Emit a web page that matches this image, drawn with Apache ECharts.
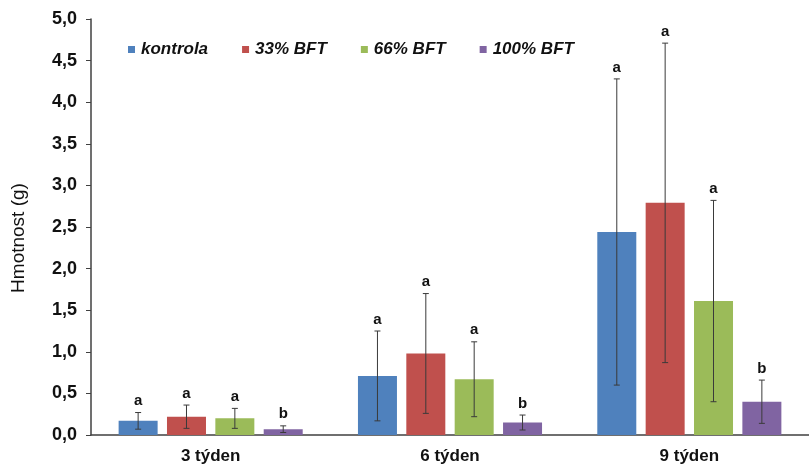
<!DOCTYPE html>
<html>
<head>
<meta charset="utf-8">
<script src="https://cdn.jsdelivr.net/npm/echarts@6/dist/echarts.min.js"></script>
<style>
  html, body { margin: 0; padding: 0; background: #fff; }
  #chart { width: 809px; height: 467px; }
</style>
</head>
<body>
<div id="chart"></div>
<script>
// Weeks on the x axis
const categories = ['3 týden', '6 týden', '9 týden'];
const seriesNames = ['kontrola', '33% BFT', '66% BFT', '100% BFT'];

// Mean weight (g) per group
const kontrola = [0.17, 0.71, 2.44];
const bft33    = [0.22, 0.98, 2.79];
const bft66    = [0.20, 0.67, 1.61];
const bft100   = [0.07, 0.15, 0.40];

// Standard deviation (g)
const sdKontrola = [0.10, 0.54, 1.84];
const sdBft33    = [0.14, 0.72, 1.92];
const sdBft66    = [0.12, 0.45, 1.21];
const sdBft100   = [0.04, 0.09, 0.26];

// Significance letters above each error bar
const lettersKontrola = ['a', 'a', 'a'];
const lettersBft33    = ['a', 'a', 'a'];
const lettersBft66    = ['a', 'a', 'a'];
const lettersBft100   = ['b', 'b', 'b'];

// Y axis tick range
const yMin = 0, yMax = 5, yStep = 0.5;

const means = [kontrola, bft33, bft66, bft100];
const sds = [sdKontrola, sdBft33, sdBft66, sdBft100];
const letters = [lettersKontrola, lettersBft33, lettersBft66, lettersBft100];
const colors = ['#4F81BD', '#C0504D', '#9BBB59', '#8064A2'];

const BAR_W = 39;
const BAR_GAP = 0.24;
const step = BAR_W * (1 + BAR_GAP);
const font = 'Liberation Sans, Arial, Helvetica, sans-serif';

const chart = echarts.init(document.getElementById('chart'), null, { renderer: 'canvas' });

const barSeries = seriesNames.map((name, k) => ({
  name: name,
  type: 'bar',
  data: means[k],
  barWidth: BAR_W,
  barGap: (BAR_GAP * 100) + '%',
  itemStyle: { color: colors[k] },
  emphasis: { disabled: true },
  z: 2
}));

const errorSeries = seriesNames.map((name, k) => ({
  type: 'custom',
  name: name + ' sd',
  z: 5,
  silent: true,
  data: means[k].map((m, i) => [i, m - sds[k][i], m + sds[k][i], letters[k][i]]),
  renderItem: function (params, api) {
    const ci = api.value(0);
    const lo = api.coord([ci, api.value(1)]);
    const hi = api.coord([ci, api.value(2)]);
    const x = lo[0] + (k - 1.5) * step;
    const cap = 3;
    const st = { stroke: '#3a3a3a', lineWidth: 1 };
    return {
      type: 'group',
      children: [
        { type: 'line', shape: { x1: x, y1: lo[1], x2: x, y2: hi[1] }, style: st },
        { type: 'line', shape: { x1: x - cap, y1: lo[1], x2: x + cap, y2: lo[1] }, style: st },
        { type: 'line', shape: { x1: x - cap, y1: hi[1], x2: x + cap, y2: hi[1] }, style: st },
        {
          type: 'text',
          style: {
            text: letters[k][params.dataIndex],
            x: x, y: hi[1] - 4,
            align: 'center', verticalAlign: 'bottom',
            font: 'bold 15px ' + font,
            fill: '#111'
          }
        }
      ]
    };
  }
}));

chart.setOption({
  animation: false,
  backgroundColor: '#ffffff',
  textStyle: { fontFamily: font },
  grid: { left: 91, top: 19, bottom: 32, width: 722, containLabel: false },
  legend: {
    data: seriesNames,
    left: 123,
    top: 36,
    icon: 'rect',
    itemWidth: 7,
    itemHeight: 7,
    itemGap: 34,
    textStyle: {
      fontFamily: font,
      fontSize: 17,
      fontWeight: 'bold',
      fontStyle: 'italic',
      color: '#111',
      padding: [0, 0, 0, 1]
    }
  },
  xAxis: {
    type: 'category',
    data: categories,
    axisLine: { lineStyle: { color: '#404040', width: 1.5 } },
    axisTick: { show: false },
    axisLabel: {
      margin: 13,
      fontSize: 17,
      fontWeight: 'bold',
      color: '#111',
      fontFamily: font
    }
  },
  yAxis: {
    type: 'value',
    min: yMin,
    max: yMax,
    interval: yStep,
    name: 'Hmotnost (g)',
    nameLocation: 'middle',
    nameGap: 63,
    nameTextStyle: {
      fontSize: 19,
      color: '#111',
      fontFamily: font,
      padding: [0, 22, 0, 0]
    },
    axisLine: { show: true, lineStyle: { color: '#404040', width: 1.5 } },
    axisTick: { show: true, inside: false, length: 5, lineStyle: { color: '#404040' } },
    splitLine: { show: false },
    axisLabel: {
      margin: 14,
      fontSize: 18,
      fontWeight: 'bold',
      color: '#111',
      fontFamily: font,
      formatter: v => v.toFixed(1).replace('.', ',')
    }
  },
  series: barSeries.concat(errorSeries)
});
</script>
</body>
</html>
